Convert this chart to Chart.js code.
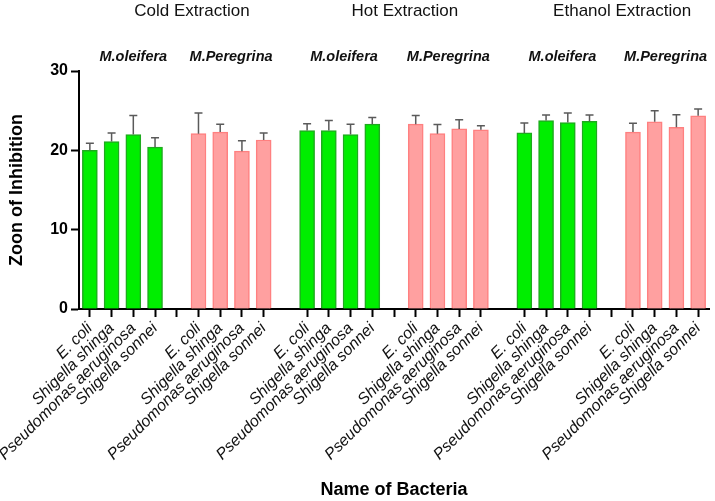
<!DOCTYPE html>
<html>
<head>
<meta charset="utf-8">
<script src="https://cdn.jsdelivr.net/npm/chart.js@4"></script>
<style>
  html, body { margin: 0; padding: 0; background: #fff; }
</style>
</head>
<body>
<canvas id="chart" width="715" height="501"></canvas>
<script>
// zone of inhibition
const bacteria = ["E. coli", "Shigella shinga", "Pseudomonas aeruginosa", "Shigella sonnei"];
const extractions = ["Cold Extraction", "Hot Extraction", "Ethanol Extraction"];
const plants = ["M.oleifera", "M.Peregrina"];

const coldOleifera = [20.0, 21.1, 22.0, 20.4];
const coldOleiferaErr = [0.9, 1.1, 2.4, 1.2];
const coldPeregrina = [22.1, 22.3, 19.9, 21.3];
const coldPeregrinaErr = [2.6, 1.0, 1.3, 0.9];

const hotOleifera = [22.5, 22.5, 22.0, 23.3];
const hotOleiferaErr = [0.85, 1.25, 1.3, 0.85];
const hotPeregrina = [23.3, 22.1, 22.7, 22.6];
const hotPeregrinaErr = [1.1, 1.15, 1.15, 0.5];

const ethanolOleifera = [22.2, 23.75, 23.5, 23.65];
const ethanolOleiferaErr = [1.25, 0.7, 1.2, 0.8];
const ethanolPeregrina = [22.3, 23.6, 22.9, 24.35];
const ethanolPeregrinaErr = [1.1, 1.4, 1.6, 0.85];

const yTicks = [0, 10, 20, 30];

const FONT = '"Liberation Sans", Arial, sans-serif';
const GREEN = "#00ee00", GREEN_EDGE = "#1faa1f";
const PINK = "#ffa0a0", PINK_EDGE = "#ff8080";

// build the category axis: 4 green, blank tick, 4 pink, spacer (no tick) ...
const labels = [];
const oleiferaData = [], oleiferaErr = [];
const peregrinaData = [], peregrinaErr = [];
const spacerIdx = [];

const groups = [
  [coldOleifera, coldOleiferaErr, coldPeregrina, coldPeregrinaErr],
  [hotOleifera, hotOleiferaErr, hotPeregrina, hotPeregrinaErr],
  [ethanolOleifera, ethanolOleiferaErr, ethanolPeregrina, ethanolPeregrinaErr]
];

function push(label, o, oe, p, pe) {
  labels.push(label);
  oleiferaData.push(o); oleiferaErr.push(oe);
  peregrinaData.push(p); peregrinaErr.push(pe);
}

groups.forEach(([ol, olE, pe, peE], g) => {
  if (g > 0) {
    spacerIdx.push(labels.length);
    push("", null, null, null, null);
  }
  bacteria.forEach((b, i) => push(b, ol[i], olE[i], null, null));
  push("", null, null, null, null);
  bacteria.forEach((b, i) => push(b, null, null, pe[i], peE[i]));
});

// header text, placed along the category axis
const extractionPos = [4.7, 14.5, 24.5];
const plantPos = [[2.0, 6.5], [11.7, 16.5], [21.75, 26.5]];

const headerPlugin = {
  id: "headers",
  afterDraw(chart) {
    const { ctx } = chart;
    const x = chart.scales.x;
    ctx.save();
    ctx.textAlign = "center";
    ctx.textBaseline = "middle";
    ctx.fillStyle = "#111";
    ctx.font = "17px " + FONT;
    extractions.forEach((name, i) => {
      ctx.fillText(name, x.getPixelForValue(extractionPos[i]), 11);
    });
    ctx.font = "italic bold 14.5px " + FONT;
    plantPos.forEach(pair => {
      pair.forEach((pos, k) => ctx.fillText(plants[k], x.getPixelForValue(pos), 57));
    });
    ctx.restore();
  }
};

const errorBarPlugin = {
  id: "errorBars",
  afterDatasetsDraw(chart) {
    const { ctx } = chart;
    const y = chart.scales.y;
    ctx.save();
    ctx.strokeStyle = "#5a5a5a";
    ctx.lineWidth = 1.5;
    chart.data.datasets.forEach((ds, i) => {
      const meta = chart.getDatasetMeta(i);
      meta.data.forEach((bar, j) => {
        const v = ds.data[j];
        if (v === null) return;
        const top = y.getPixelForValue(v + ds.errors[j]);
        ctx.beginPath();
        ctx.moveTo(bar.x, bar.y);
        ctx.lineTo(bar.x, top);
        ctx.moveTo(bar.x - 4, top);
        ctx.lineTo(bar.x + 4, top);
        ctx.stroke();
      });
    });
    ctx.restore();
  }
};

new Chart(document.getElementById("chart"), {
  type: "bar",
  data: {
    labels,
    datasets: [
      {
        label: plants[0],
        data: oleiferaData,
        errors: oleiferaErr,
        backgroundColor: GREEN,
        borderColor: GREEN_EDGE,
        borderWidth: 1.5,
        barThickness: 15,
        grouped: false
      },
      {
        label: plants[1],
        data: peregrinaData,
        errors: peregrinaErr,
        backgroundColor: PINK,
        borderColor: PINK_EDGE,
        borderWidth: 1.5,
        barThickness: 15,
        grouped: false
      }
    ]
  },
  options: {
    responsive: false,
    animation: false,
    layout: { padding: { top: 71, right: 6, bottom: 0, left: 0 } },
    plugins: {
      legend: { display: false },
      tooltip: { enabled: false }
    },
    scales: {
      x: {
        offset: true,
        grid: {
          display: true,
          drawOnChartArea: false,
          offset: false,
          tickLength: 8,
          tickWidth: 2,
          tickColor: c => spacerIdx.includes(c.index) ? "rgba(0,0,0,0)" : "#000"
        },
        border: { display: true, color: "#000", width: 2 },
        ticks: {
          autoSkip: false,
          minRotation: 45,
          maxRotation: 45,
          padding: 2,
          color: "#111",
          font: { family: FONT, size: 16, style: "italic" }
        },
        title: {
          display: true,
          text: "Name of Bacteria",
          color: "#000",
          padding: { top: 0, bottom: 0 },
          font: { family: FONT, size: 18, weight: "bold" }
        },
        afterFit: s => { s.height = 192; }
      },
      y: {
        min: 0,
        max: 30,
        afterBuildTicks: s => { s.ticks = yTicks.map(v => ({ value: v })); },
        grid: {
          drawOnChartArea: false,
          tickLength: 8,
          tickWidth: 2,
          tickColor: "#000"
        },
        border: { display: true, color: "#000", width: 2 },
        ticks: {
          padding: 3,
          color: "#000",
          font: { family: FONT, size: 16, weight: "bold" }
        },
        title: {
          display: true,
          text: "Zoon of Inhibition",
          color: "#000",
          padding: { top: 6, bottom: 0 },
          font: { family: FONT, size: 18, weight: "bold" }
        },
        afterFit: s => { s.width = 79; }
      }
    }
  },
  plugins: [headerPlugin, errorBarPlugin]
});
</script>
</body>
</html>
